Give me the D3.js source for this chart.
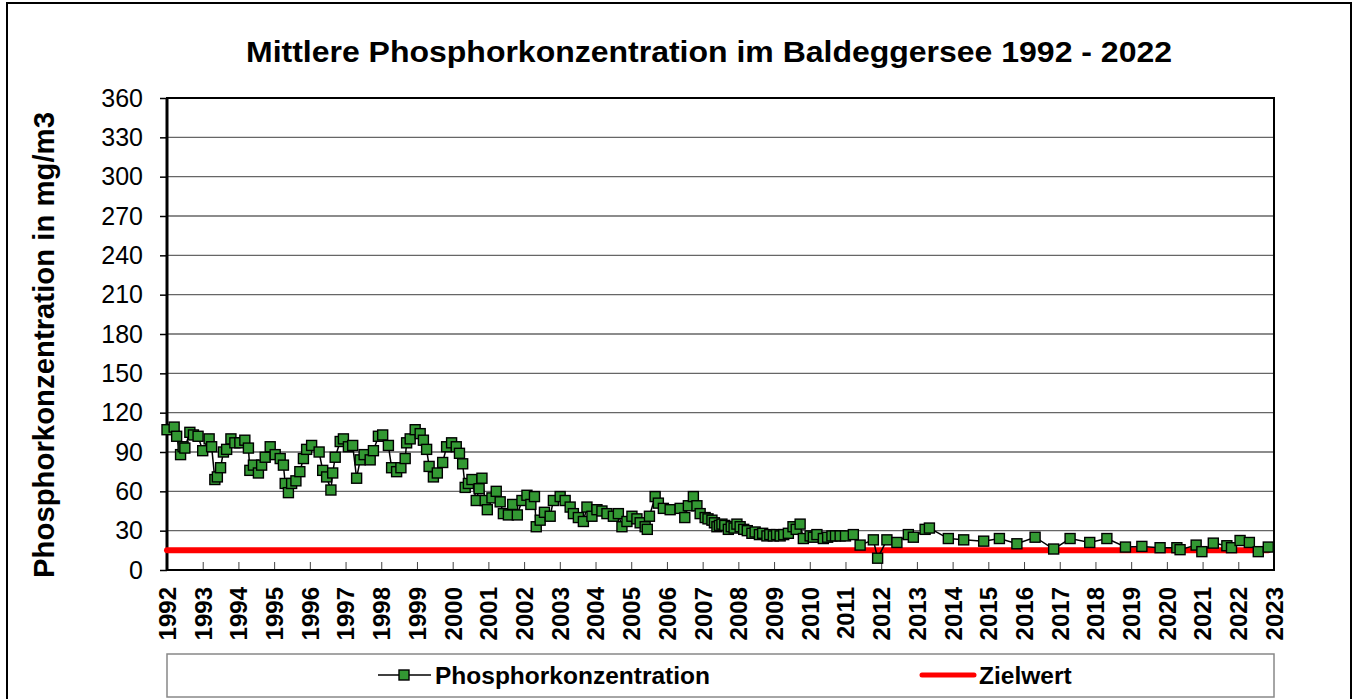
<!DOCTYPE html>
<html>
<head>
<meta charset="utf-8">
<script src="https://cdn.jsdelivr.net/npm/d3@7"></script>
<style>
  body { margin: 0; background: #fff; }
  svg { display: block; font-family: "Liberation Sans", Arial, sans-serif; }
</style>
</head>
<body>
<svg id="chart" width="1354" height="699"></svg>
<script>
// sample dates (decimal years) and mean phosphorus concentration (mg/m3)
const dates = [
  1992.00, 1992.20, 1992.27, 1992.38, 1992.45, 1992.50, 1992.64, 1992.74, 1992.87,
  1993.00, 1993.18, 1993.25, 1993.34, 1993.41, 1993.50, 1993.58, 1993.67, 1993.79, 1993.90,
  1994.04, 1994.18, 1994.28, 1994.32, 1994.42, 1994.56, 1994.65, 1994.75, 1994.89,
  1995.03, 1995.17, 1995.26, 1995.31, 1995.40, 1995.49, 1995.61, 1995.72, 1995.82, 1995.91,
  1996.05, 1996.26, 1996.36, 1996.47, 1996.59, 1996.64, 1996.71, 1996.85, 1996.94,
  1997.08, 1997.20, 1997.31, 1997.41, 1997.52, 1997.69, 1997.78, 1997.92,
  1998.04, 1998.20, 1998.29, 1998.43, 1998.55, 1998.67, 1998.71, 1998.81, 1998.95,
  1999.09, 1999.18, 1999.27, 1999.34, 1999.46, 1999.57, 1999.72, 1999.83, 1999.97,
  2000.10, 2000.19, 2000.28, 2000.35, 2000.44, 2000.54, 2000.66, 2000.74, 2000.82, 2000.91, 2000.97,
  2001.10, 2001.22, 2001.33, 2001.42, 2001.56, 2001.68, 2001.81, 2001.94,
  2002.08, 2002.19, 2002.29, 2002.34, 2002.45, 2002.57, 2002.73, 2002.82,
  2003.01, 2003.15, 2003.29, 2003.38, 2003.52, 2003.66, 2003.76, 2003.90,
  2004.04, 2004.18, 2004.32, 2004.50, 2004.64, 2004.74, 2004.88,
  2005.02, 2005.16, 2005.25, 2005.39, 2005.45, 2005.51, 2005.67, 2005.76, 2005.90,
  2006.09, 2006.37, 2006.50, 2006.60, 2006.74, 2006.84, 2006.93,
  2007.07, 2007.15, 2007.26, 2007.33, 2007.40, 2007.47, 2007.54, 2007.62, 2007.72, 2007.80, 2007.88, 2007.96,
  2008.05, 2008.15, 2008.25, 2008.38, 2008.47, 2008.59, 2008.68, 2008.80, 2008.88, 2008.98,
  2009.07, 2009.17, 2009.27, 2009.40, 2009.53, 2009.62, 2009.73, 2009.82,
  2010.01, 2010.10, 2010.20, 2010.38, 2010.50, 2010.62, 2010.72, 2010.85, 2011.00,
  2011.22, 2011.41, 2011.78, 2011.90,
  2012.16, 2012.44, 2012.76, 2012.90, 2013.23, 2013.35, 2013.88,
  2014.31, 2014.87, 2015.31, 2015.80, 2016.31, 2016.83, 2017.29, 2017.84,
  2018.32, 2018.84, 2019.30, 2019.81, 2020.28, 2020.37, 2020.82, 2020.98,
  2021.30, 2021.68, 2021.81, 2022.05, 2022.31, 2022.56, 2022.84
];

const phosphor = [
  107, 109, 102, 88, 94, 93, 105, 103, 102,
  91, 100, 94, 69, 71, 78, 90, 92, 100, 97,
  97, 99, 93, 76, 80, 74, 80, 86, 94,
  88, 85, 80, 66, 59, 66, 68, 75, 85, 92,
  95, 90, 76, 71, 61, 74, 86, 98, 100,
  94, 95, 70, 84, 88, 84, 91, 102,
  103, 95, 78, 75, 78, 85, 97, 100, 107,
  104, 99, 92, 79, 71, 74, 82, 94, 97,
  94, 89, 81, 63, 66, 69, 53, 62, 70, 53, 46,
  55, 60, 52, 43, 42, 50, 42, 53,
  57, 50, 56, 33, 38, 44, 41, 53,
  56, 53, 48, 43, 40, 37, 48, 41,
  46, 45, 43, 41, 43, 33, 37,
  41, 39, 36, 33, 31, 41, 56, 51, 47,
  46, 47, 40, 49, 56, 49, 43,
  40, 39, 38, 36, 33, 34, 35, 34, 31, 33, 32, 35,
  33, 31, 30, 28, 29, 27, 28, 26, 27, 26,
  27, 26, 27, 28, 33, 31, 35, 24,
  26, 25, 27, 24, 25, 26, 26, 26, 26,
  27, 19, 23, 9,
  23, 21, 27, 25, 31, 32, 24,
  23, 22, 24, 20, 25, 16, 24, 21,
  24, 17.5, 18, 17, 17, 15.5, 19, 14,
  20.5, 18.5, 17, 22.5, 21, 14, 17.5
];

const zielwert = 15;
const yearTicks = d3.range(1992, 2024);
const yTicks = d3.range(0, 361, 30);

const svg = d3.select("#chart");

const x = d3.scaleLinear().domain([1992, 2023]).range([167, 1274]);
const y = d3.scaleLinear().domain([0, 360]).range([570, 98]);

// outer frame
svg.append("rect")
  .attr("x", 7).attr("y", 3)
  .attr("width", 1344).attr("height", 697)
  .attr("fill", "#fff")
  .attr("stroke", "#000")
  .attr("stroke-width", 2);

svg.append("text")
  .attr("x", 709).attr("y", 62)
  .attr("text-anchor", "middle")
  .attr("font-size", 30)
  .attr("font-weight", "bold")
  .attr("textLength", 926)
  .attr("lengthAdjust", "spacingAndGlyphs")
  .text("Mittlere Phosphorkonzentration im Baldeggersee 1992 - 2022");

// grid
svg.append("g")
  .selectAll("line")
  .data(yTicks.filter(d => d > 0 && d < 360))
  .join("line")
    .attr("x1", x(1992)).attr("x2", x(2023))
    .attr("y1", d => y(d)).attr("y2", d => y(d))
    .attr("stroke", "#666")
    .attr("stroke-width", 1.3);

// y axis
const yAxis = svg.append("g")
  .attr("transform", `translate(${x(1992)},0)`)
  .call(d3.axisLeft(y).tickValues(yTicks).tickSize(7).tickPadding(17));
yAxis.select(".domain").remove();
yAxis.selectAll(".tick line").attr("stroke", "#000").attr("stroke-width", 1.5);
yAxis.selectAll(".tick text")
  .attr("font-size", 25)
  .attr("font-family", "Liberation Sans, Arial, sans-serif")
  .attr("fill", "#000");

// x axis: ticks inside, labels rotated
const xAxis = svg.append("g")
  .attr("transform", `translate(0,${y(0)})`)
  .call(d3.axisBottom(x).tickValues(yearTicks).tickSize(-8).tickFormat(d3.format("d")));
xAxis.select(".domain").remove();
xAxis.selectAll(".tick line").attr("stroke", "#444").attr("stroke-width", 1);
xAxis.selectAll(".tick text")
  .attr("font-size", 24)
  .attr("font-weight", "bold")
  .attr("font-family", "Liberation Sans, Arial, sans-serif")
  .attr("fill", "#000")
  .attr("text-anchor", "end")
  .attr("transform", "rotate(-90)")
  .attr("x", -17)
  .attr("y", 0)
  .attr("dy", "0.35em");

// plot frame
svg.append("rect")
  .attr("x", x(1992)).attr("y", y(360))
  .attr("width", x(2023) - x(1992)).attr("height", y(0) - y(360))
  .attr("fill", "none")
  .attr("stroke", "#000")
  .attr("stroke-width", 2);
svg.append("line")
  .attr("x1", x(1992)).attr("x2", x(1992))
  .attr("y1", y(360)).attr("y2", y(0))
  .attr("stroke", "#000").attr("stroke-width", 3);

svg.append("text")
  .attr("transform", `translate(54,345) rotate(-90)`)
  .attr("text-anchor", "middle")
  .attr("font-size", 29)
  .attr("font-weight", "bold")
  .attr("textLength", 466)
  .attr("lengthAdjust", "spacingAndGlyphs")
  .text("Phosphorkonzentration in mg/m3");

// target line
svg.append("line")
  .attr("x1", x(d3.min(dates))).attr("x2", x(d3.max(dates)))
  .attr("y1", y(zielwert)).attr("y2", y(zielwert))
  .attr("stroke", "#ff0000")
  .attr("stroke-width", 6)
  .attr("stroke-linecap", "round");

const points = dates.map((d, i) => ({ date: d, value: phosphor[i] }));

svg.append("path")
  .datum(points)
  .attr("fill", "none")
  .attr("stroke", "#000")
  .attr("stroke-width", 1.5)
  .attr("d", d3.line().x(d => x(d.date)).y(d => y(d.value)));

const ms = 10;
svg.append("g")
  .selectAll("rect")
  .data(points)
  .join("rect")
    .attr("x", d => x(d.date) - ms / 2)
    .attr("y", d => y(d.value) - ms / 2)
    .attr("width", ms).attr("height", ms)
    .attr("fill", "#339933")
    .attr("stroke", "#000")
    .attr("stroke-width", 1.4);

// legend
const legend = svg.append("g");
legend.append("rect")
  .attr("x", 167).attr("y", 654)
  .attr("width", 1107).attr("height", 43)
  .attr("fill", "#fff")
  .attr("stroke", "#888")
  .attr("stroke-width", 1.5);
legend.append("line")
  .attr("x1", 378).attr("x2", 431).attr("y1", 675).attr("y2", 675)
  .attr("stroke", "#000").attr("stroke-width", 1.5);
legend.append("rect")
  .attr("x", 399).attr("y", 670).attr("width", 10).attr("height", 10)
  .attr("fill", "#339933").attr("stroke", "#000").attr("stroke-width", 1.4);
legend.append("text")
  .attr("x", 435).attr("y", 684)
  .attr("font-size", 24.5).attr("font-weight", "bold")
  .text("Phosphorkonzentration");
legend.append("line")
  .attr("x1", 922).attr("x2", 974).attr("y1", 675).attr("y2", 675)
  .attr("stroke", "#ff0000").attr("stroke-width", 5).attr("stroke-linecap", "round");
legend.append("text")
  .attr("x", 979).attr("y", 684)
  .attr("font-size", 24.5).attr("font-weight", "bold")
  .text("Zielwert");
</script>
</body>
</html>
